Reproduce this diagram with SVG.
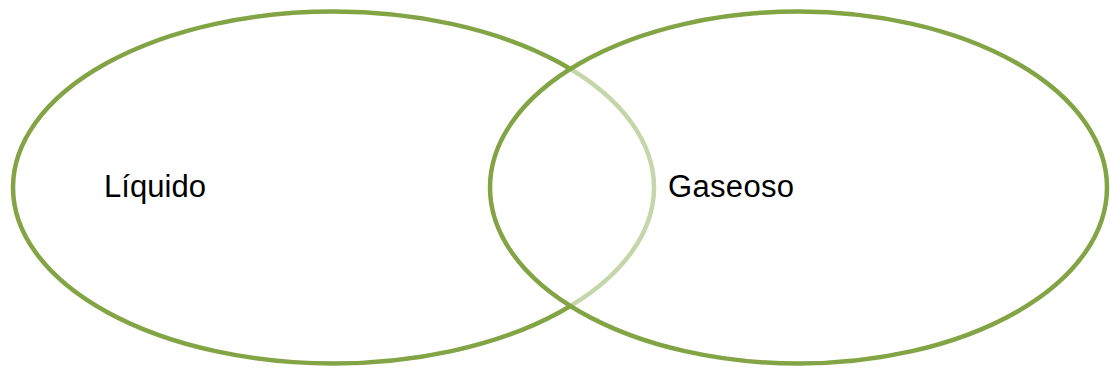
<svg xmlns="http://www.w3.org/2000/svg" width="1110" height="373" viewBox="0 0 1110 373">
<style>
.set{stroke:#82a445;stroke-width:4.5;}
.lbl{font-family:"Liberation Sans",Arial,sans-serif;font-size:31px;fill:#000;}
</style>
<rect width="1110" height="373" fill="#fff"/>
<g id="liquido">
<ellipse class="set" cx="333.5" cy="187.5" rx="320.5" ry="176" fill="#fff"/>
<text class="lbl" x="104" y="197" textLength="102">Líquido</text>
</g>
<g id="gaseoso">
<ellipse class="set" cx="798.5" cy="187.5" rx="308.5" ry="176" fill="#fff" fill-opacity="0.55"/>
<text class="lbl" x="668" y="197" textLength="126">Gaseoso</text>
</g>
<g id="connectors"/>
</svg>
